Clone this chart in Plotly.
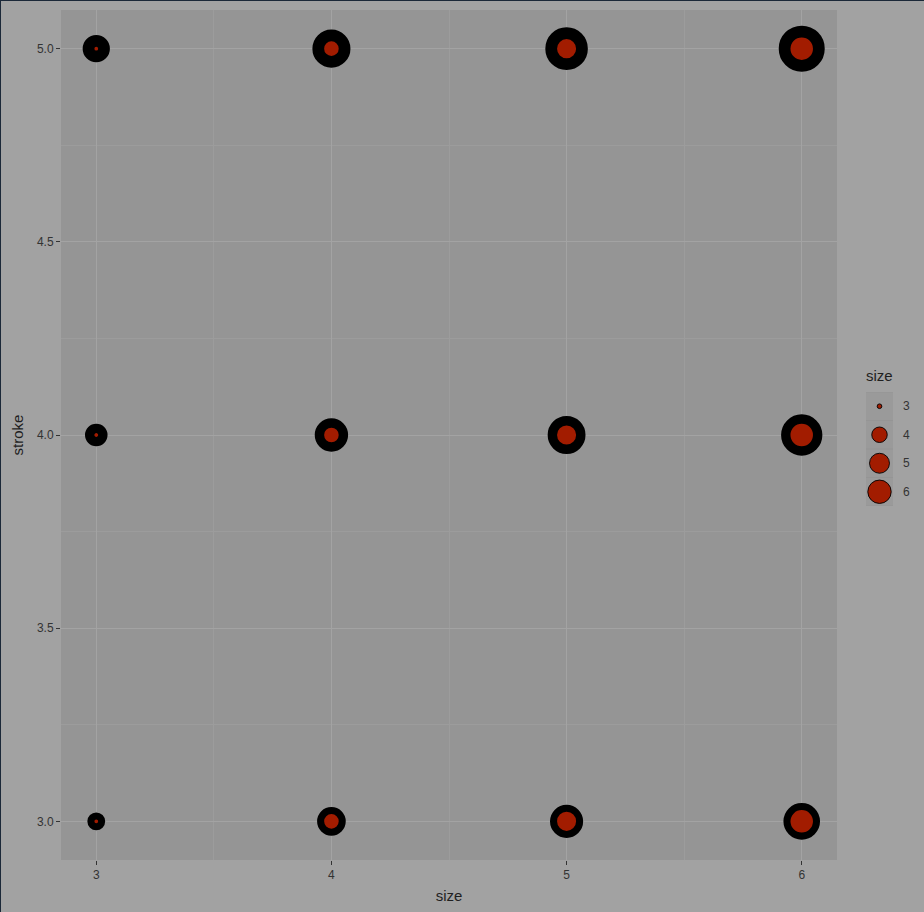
import numpy as np
import plotly.graph_objects as go

# ---- data ----
size_vals = [3, 4, 5, 6]
stroke_vals = [3, 4, 5]
legend_vals = [3, 4, 5, 6]

xs = [s for st in stroke_vals for s in size_vals]
ys = [st for st in stroke_vals for s in size_vals]

# ---- style mapping (ggplot-like area scale) ----
PX_PER_MM = 3.75
STROKE_PX = 4.7
def size_mm(v):
    lo, hi = min(size_vals), max(size_vals)
    return 1 + 5 * np.sqrt((v - lo) / (hi - lo))

inner = np.array([size_mm(v) * PX_PER_MM for v in xs])
outer = inner + STROKE_PX * np.array(ys)
msize = (inner + outer) / 2
mline = (outer - inner) / 2

FILL = "#a21c00"
BG = "#a2a2a2"
PANEL = "#959595"
GRID = "#a3a3a3"
TXT = "#333333"
FONT = "Liberation Sans, Arial, sans-serif"

W, H = 924, 912
L, R, T, B = 61, 0, 10, 52
pw = W - L - R
ph = H - T - B
def px2x(px): return (px - L) / pw
def py2y(py): return (H - B - py) / ph

fig = go.Figure()
fig.add_trace(go.Scatter(
    x=xs, y=ys, mode="markers", showlegend=False, hoverinfo="x+y",
    marker=dict(symbol="circle", color=FILL, size=msize, opacity=1,
                line=dict(color="black", width=mline)),
    xaxis="x", yaxis="y"))

# legend as small subplot
leg_inner = [size_mm(v) * PX_PER_MM for v in legend_vals]
fig.add_trace(go.Scatter(
    x=[0] * len(legend_vals), y=legend_vals, mode="markers", showlegend=False,
    hoverinfo="skip",
    marker=dict(symbol="circle", color=FILL, size=[d + 0.9 for d in leg_inner],
                opacity=1, line=dict(color="black", width=0.9)),
    xaxis="x2", yaxis="y2"))

shapes = []
for v in legend_vals:
    shapes.append(dict(type="rect", xref="x2", yref="y2", x0=-0.5, x1=0.5,
                       y0=v - 0.48, y1=v + 0.48, fillcolor="#9a9a9a",
                       line=dict(width=0), layer="below"))
# dark frame edges (left, top)
shapes.append(dict(type="line", xref="paper", yref="paper",
                   x0=px2x(0.5), x1=px2x(0.5), y0=py2y(0), y1=py2y(H),
                   line=dict(color="#1b2838", width=1)))
shapes.append(dict(type="line", xref="paper", yref="paper",
                   x0=px2x(0), x1=px2x(W), y0=py2y(0.5), y1=py2y(0.5),
                   line=dict(color="#1b2838", width=1)))

annotations = [dict(text="size", xref="paper", yref="paper", x=px2x(864),
                    y=py2y(375), xanchor="left", yanchor="middle",
                    showarrow=False, font=dict(size=15, color="#1f1f1f", family=FONT))]
for v in legend_vals:
    annotations.append(dict(text=str(v), xref="x2", yref="y2", x=0.5, y=v,
                            xanchor="left", yanchor="middle", xshift=8,
                            showarrow=False,
                            font=dict(size=12, color=TXT, family=FONT)))

x_main_end = px2x(837)
fig.update_layout(
    width=W, height=H,
    margin=dict(l=L, r=R, t=T, b=B),
    paper_bgcolor=BG, plot_bgcolor=PANEL,
    font=dict(family=FONT, color=TXT),
    shapes=shapes, annotations=annotations,
    xaxis=dict(domain=[0, x_main_end], range=[2.85, 6.15],
               tickvals=size_vals, ticktext=[str(v) for v in size_vals],
               showgrid=True, gridcolor=GRID, gridwidth=1.4, zeroline=False,
               ticks="outside", ticklen=4, tickwidth=1.2, tickcolor="#333333",
               tickfont=dict(size=12, color=TXT),
               minor=dict(dtick=0.5, tick0=3, showgrid=True, gridcolor="#9c9c9c", gridwidth=0.7),
               title=dict(text="size", font=dict(size=15, color="#1f1f1f"), standoff=9),
               anchor="y"),
    yaxis=dict(domain=[0, 1], range=[2.9, 5.1],
               tickvals=[3.0, 3.5, 4.0, 4.5, 5.0],
               ticktext=["3.0", "3.5", "4.0", "4.5", "5.0"],
               showgrid=True, gridcolor=GRID, gridwidth=1.4, zeroline=False,
               ticks="outside", ticklen=4, tickwidth=1.2, tickcolor="#333333",
               tickfont=dict(size=12, color=TXT),
               minor=dict(dtick=0.25, tick0=3, showgrid=True, gridcolor="#9c9c9c", gridwidth=0.7),
               title=dict(text="stroke", font=dict(size=15, color="#1f1f1f"), standoff=9),
               anchor="x"),
    xaxis2=dict(domain=[px2x(866), px2x(893)], range=[-0.5, 0.5], visible=False,
                anchor="y2", fixedrange=True),
    yaxis2=dict(domain=[py2y(506), py2y(392)], range=[6.5, 2.5], visible=False,
                anchor="x2", fixedrange=True),
    hovermode="closest",
)

fig.write_html("out.html")
